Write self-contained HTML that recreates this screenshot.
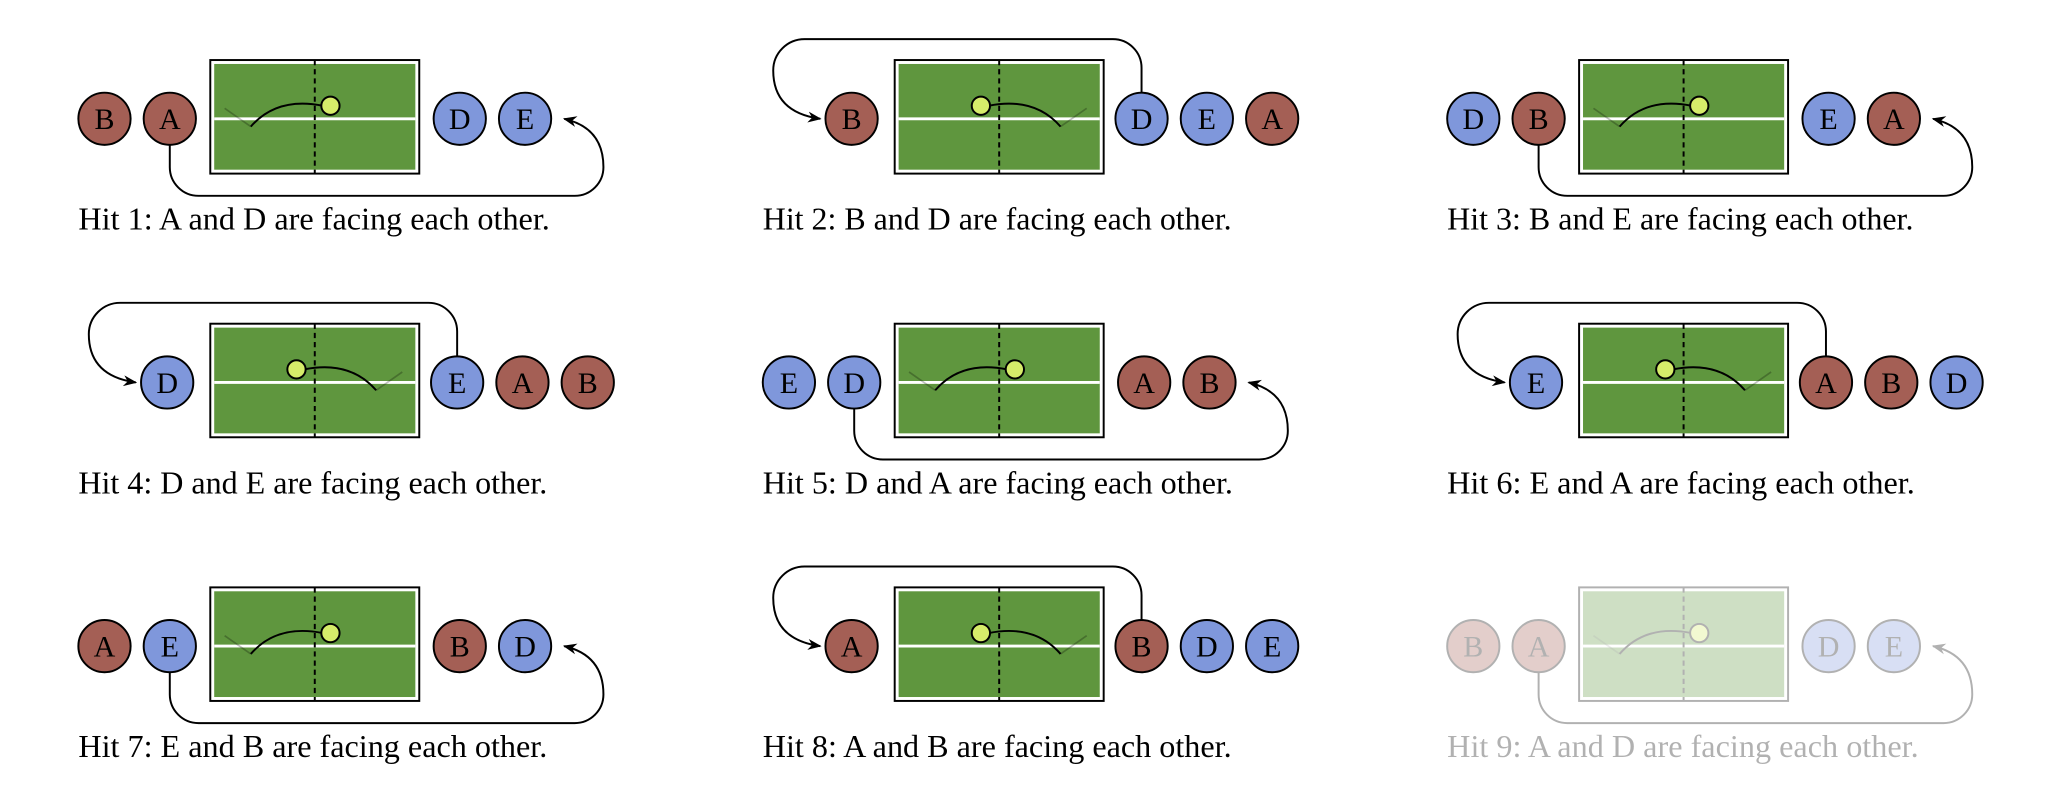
<!DOCTYPE html>
<html><head><style>html,body{margin:0;padding:0;background:#fff;overflow:hidden}svg{display:block}</style></head><body>
<svg width="2048" height="791" viewBox="0 0 1568 606" preserveAspectRatio="none" xmlns="http://www.w3.org/2000/svg" font-family="'Liberation Serif', serif">
<defs>
<marker id="ah" viewBox="0 0 10 10" refX="9" refY="5" markerWidth="7" markerHeight="7" orient="auto"><path d="M0,1 L10,5 L0,9 L3,5 Z" fill="#000"/></marker>
<g id="court">
<rect x="161" y="46" width="160" height="87" fill="#fff" stroke="#000" stroke-width="1.5"/>
<rect x="164" y="49" width="154" height="81" fill="#5f963e"/>
<line x1="164" y1="91" x2="318" y2="91" stroke="#fff" stroke-width="2.2"/>
<line x1="241" y1="46" x2="241" y2="133" stroke="#000" stroke-width="1.5" stroke-dasharray="4,3"/>
</g>
<g id="ballR">
<path d="M172 83 L192 97" stroke="#000" stroke-width="1.3" fill="none" opacity="0.25"/>
<path d="M192 97 Q212 74 247 81" stroke="#000" stroke-width="1.5" fill="none"/>
<circle cx="253" cy="81" r="7" fill="#d6ec6a" stroke="#000" stroke-width="1.5"/>
</g>
<g id="ballL">
<path d="M308 83 L288 97" stroke="#000" stroke-width="1.3" fill="none" opacity="0.25"/>
<path d="M288 97 Q268 74 233 81" stroke="#000" stroke-width="1.5" fill="none"/>
<circle cx="227" cy="81" r="7" fill="#d6ec6a" stroke="#000" stroke-width="1.5"/>
</g>
<path id="bot" d="M130 111 V128 A22 22 0 0 0 152 150 H440 A22 22 0 0 0 462 128 Q462 98 432 91" fill="none" stroke="#000" stroke-width="1.5" marker-end="url(#ah)"/>
<path id="top" d="M350 71 V52 A22 22 0 0 0 328 30 H92 A24 24 0 0 0 68 54 Q68 86 104 91" fill="none" stroke="#000" stroke-width="1.5" marker-end="url(#ah)"/>
<g id="R"><circle r="20" fill="#a45f55" stroke="#000" stroke-width="1.5"/></g>
<g id="B"><circle r="20" fill="#7f97db" stroke="#000" stroke-width="1.5"/></g>
</defs>
<style>.l{font-size:23px;text-anchor:middle}.c{font-size:24px}</style>

<g>
<use href="#court"/><use href="#ballR"/><use href="#bot"/>
<use href="#R" x="80" y="91"/><text class="l" x="80" y="99">B</text>
<use href="#R" x="130" y="91"/><text class="l" x="130" y="99">A</text>
<use href="#B" x="352" y="91"/><text class="l" x="352" y="99">D</text>
<use href="#B" x="402" y="91"/><text class="l" x="402" y="99">E</text>
<text class="c" x="60" y="176" textLength="361" lengthAdjust="spacingAndGlyphs">Hit 1: A and D are facing each other.</text>
</g>
<g transform="translate(524,0)">
<use href="#court"/><use href="#ballL"/><use href="#top"/>
<use href="#R" x="128" y="91"/><text class="l" x="128" y="99">B</text>
<use href="#B" x="350" y="91"/><text class="l" x="350" y="99">D</text>
<use href="#B" x="400" y="91"/><text class="l" x="400" y="99">E</text>
<use href="#R" x="450" y="91"/><text class="l" x="450" y="99">A</text>
<text class="c" x="60" y="176" textLength="359" lengthAdjust="spacingAndGlyphs">Hit 2: B and D are facing each other.</text>
</g>
<g transform="translate(1048,0)">
<use href="#court"/><use href="#ballR"/><use href="#bot"/>
<use href="#B" x="80" y="91"/><text class="l" x="80" y="99">D</text>
<use href="#R" x="130" y="91"/><text class="l" x="130" y="99">B</text>
<use href="#B" x="352" y="91"/><text class="l" x="352" y="99">E</text>
<use href="#R" x="402" y="91"/><text class="l" x="402" y="99">A</text>
<text class="c" x="60" y="176" textLength="357" lengthAdjust="spacingAndGlyphs">Hit 3: B and E are facing each other.</text>
</g>
<g transform="translate(0,202)">
<use href="#court"/><use href="#ballL"/><use href="#top"/>
<use href="#B" x="128" y="91"/><text class="l" x="128" y="99">D</text>
<use href="#B" x="350" y="91"/><text class="l" x="350" y="99">E</text>
<use href="#R" x="400" y="91"/><text class="l" x="400" y="99">A</text>
<use href="#R" x="450" y="91"/><text class="l" x="450" y="99">B</text>
<text class="c" x="60" y="176" textLength="359" lengthAdjust="spacingAndGlyphs">Hit 4: D and E are facing each other.</text>
</g>
<g transform="translate(524,202)">
<use href="#court"/><use href="#ballR"/><use href="#bot"/>
<use href="#B" x="80" y="91"/><text class="l" x="80" y="99">E</text>
<use href="#B" x="130" y="91"/><text class="l" x="130" y="99">D</text>
<use href="#R" x="352" y="91"/><text class="l" x="352" y="99">A</text>
<use href="#R" x="402" y="91"/><text class="l" x="402" y="99">B</text>
<text class="c" x="60" y="176" textLength="360" lengthAdjust="spacingAndGlyphs">Hit 5: D and A are facing each other.</text>
</g>
<g transform="translate(1048,202)">
<use href="#court"/><use href="#ballL"/><use href="#top"/>
<use href="#B" x="128" y="91"/><text class="l" x="128" y="99">E</text>
<use href="#R" x="350" y="91"/><text class="l" x="350" y="99">A</text>
<use href="#R" x="400" y="91"/><text class="l" x="400" y="99">B</text>
<use href="#B" x="450" y="91"/><text class="l" x="450" y="99">D</text>
<text class="c" x="60" y="176" textLength="358" lengthAdjust="spacingAndGlyphs">Hit 6: E and A are facing each other.</text>
</g>
<g transform="translate(0,404)">
<use href="#court"/><use href="#ballR"/><use href="#bot"/>
<use href="#R" x="80" y="91"/><text class="l" x="80" y="99">A</text>
<use href="#B" x="130" y="91"/><text class="l" x="130" y="99">E</text>
<use href="#R" x="352" y="91"/><text class="l" x="352" y="99">B</text>
<use href="#B" x="402" y="91"/><text class="l" x="402" y="99">D</text>
<text class="c" x="60" y="176" textLength="359" lengthAdjust="spacingAndGlyphs">Hit 7: E and B are facing each other.</text>
</g>
<g transform="translate(524,404)">
<use href="#court"/><use href="#ballL"/><use href="#top"/>
<use href="#R" x="128" y="91"/><text class="l" x="128" y="99">A</text>
<use href="#R" x="350" y="91"/><text class="l" x="350" y="99">B</text>
<use href="#B" x="400" y="91"/><text class="l" x="400" y="99">D</text>
<use href="#B" x="450" y="91"/><text class="l" x="450" y="99">E</text>
<text class="c" x="60" y="176" textLength="359" lengthAdjust="spacingAndGlyphs">Hit 8: A and B are facing each other.</text>
</g>
<g transform="translate(1048,404)" opacity="0.3">
<use href="#court"/><use href="#ballR"/><use href="#bot"/>
<use href="#R" x="80" y="91"/><text class="l" x="80" y="99">B</text>
<use href="#R" x="130" y="91"/><text class="l" x="130" y="99">A</text>
<use href="#B" x="352" y="91"/><text class="l" x="352" y="99">D</text>
<use href="#B" x="402" y="91"/><text class="l" x="402" y="99">E</text>
<text class="c" x="60" y="176" textLength="361" lengthAdjust="spacingAndGlyphs">Hit 9: A and D are facing each other.</text>
</g>
</svg>
</body></html>
